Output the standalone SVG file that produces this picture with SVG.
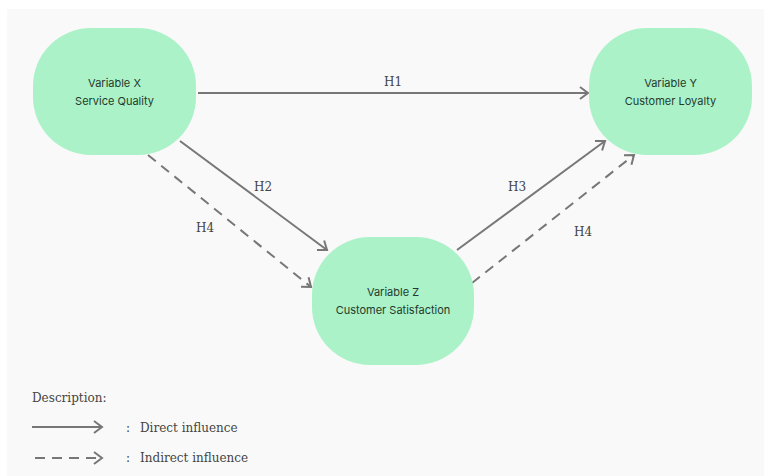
<svg xmlns="http://www.w3.org/2000/svg" width="764" height="476" viewBox="0 0 764 476">
  <style>
    .node { fill: #abf2c8; }
    .ntext { font-family: Inter, "Noto Sans", "Liberation Sans", sans-serif; font-size: 11px; fill: #243a2d; text-anchor: middle; }
    .lbl { font-family: "DejaVu Serif", "Liberation Serif", serif; font-size: 12px; fill: #444; text-anchor: middle; }
    .legend { font-family: "DejaVu Serif", "Liberation Serif", serif; font-size: 12px; fill: #444; }
    .solid { stroke: #777; stroke-width: 2; fill: none; marker-end: url(#chev); }
    .dash { stroke: #777; stroke-width: 2; fill: none; stroke-dasharray: 10 7; marker-end: url(#chev); }
  </style>
  <defs>
    <marker id="chev" viewBox="0 0 12 14" refX="10" refY="7" markerWidth="12" markerHeight="14" markerUnits="userSpaceOnUse" orient="auto">
      <path d="M2,1 L10,7 L2,13" fill="none" stroke="#777" stroke-width="2"/>
    </marker>
  </defs>

  <!-- page and canvas backgrounds -->
  <rect x="0" y="0" width="764" height="476" fill="#ffffff"/>
  <rect x="7" y="9" width="757" height="467" fill="#f9f9f9"/>

  <g id="connectors">
    <line class="solid" x1="198" y1="93" x2="588" y2="93"/>
    <line class="solid" x1="180" y1="141" x2="327" y2="250"/>
    <line class="dash" x1="148" y1="155" x2="311" y2="287"/>
    <line class="solid" x1="457" y1="250" x2="605" y2="141"/>
    <line class="dash" x1="472" y1="283" x2="634" y2="155"/>
  </g>

  <g id="labels">
    <text class="lbl" x="393" y="86">H1</text>
    <text class="lbl" x="263" y="191">H2</text>
    <text class="lbl" x="205" y="232">H4</text>
    <text class="lbl" x="517" y="191">H3</text>
    <text class="lbl" x="583" y="236">H4</text>
  </g>

  <g id="node-x">
    <rect class="node" x="33" y="28" width="163" height="127" rx="58" ry="58"/>
    <text class="ntext" x="114.5" y="87">Variable X</text>
    <text class="ntext" x="114.5" y="105">Service Quality</text>
  </g>

  <g id="node-y">
    <rect class="node" x="589" y="28" width="163" height="127" rx="58" ry="58"/>
    <text class="ntext" x="670.5" y="87">Variable Y</text>
    <text class="ntext" x="670.5" y="105">Customer Loyalty</text>
  </g>

  <g id="node-z">
    <rect class="node" x="312" y="237" width="162" height="128" rx="58" ry="58"/>
    <text class="ntext" x="393" y="296">Variable Z</text>
    <text class="ntext" x="393" y="314">Customer Satisfaction</text>
  </g>

  <g id="legend">
    <text class="legend" x="32" y="402">Description:</text>
    <line class="solid" x1="32" y1="427" x2="102" y2="427"/>
    <text class="legend" x="126" y="432">:</text>
    <text class="legend" x="140" y="432">Direct influence</text>
    <line class="dash" x1="35" y1="458" x2="102" y2="458" stroke-dasharray="8 6"/>
    <text class="legend" x="126" y="462">:</text>
    <text class="legend" x="140" y="462">Indirect influence</text>
  </g>
</svg>
